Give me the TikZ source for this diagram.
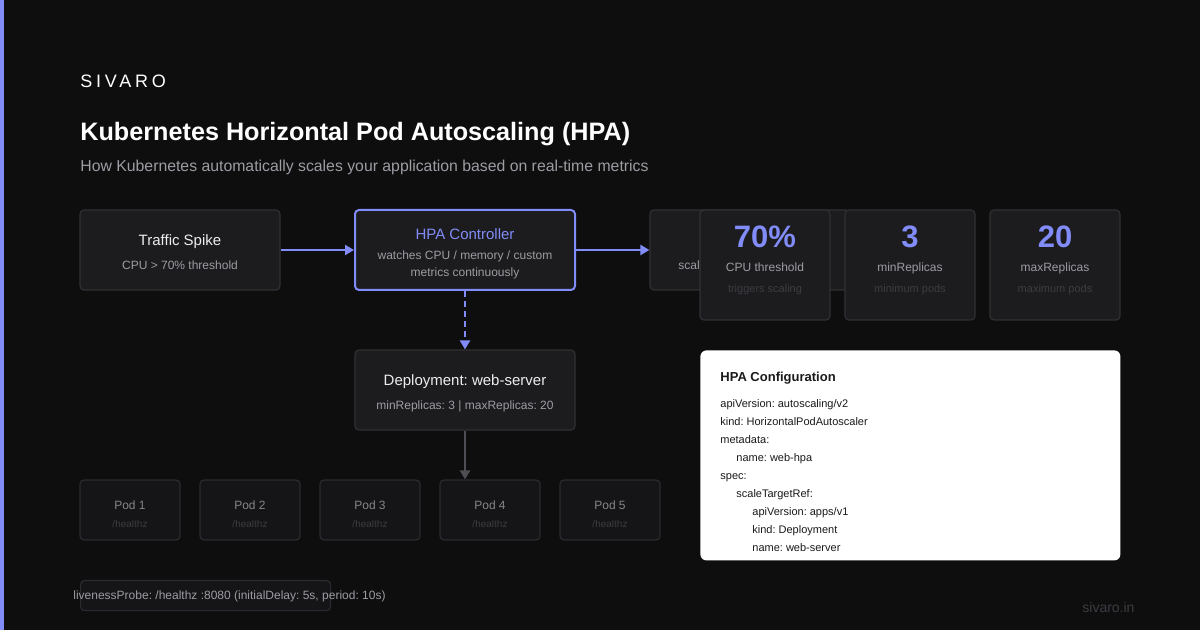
\documentclass[tikz,border=0pt]{standalone}
\usepackage{fontspec}
\setmainfont{Liberation Sans}
\newfontfamily\brandfont[LetterSpace=21]{Liberation Sans}
\usetikzlibrary{positioning,arrows.meta}
\frenchspacing

\definecolor{bg}{HTML}{0E0E0F}
\definecolor{accent}{HTML}{818CF8}
\definecolor{card}{HTML}{1C1C1F}
\definecolor{cardline}{HTML}{303034}
\definecolor{podfill}{HTML}{151517}
\definecolor{podline}{HTML}{2B2B2F}
\definecolor{txtmain}{HTML}{EDEDED}
\definecolor{txtsub}{HTML}{9C9CA3}
\definecolor{txtdim}{HTML}{3C3C42}
\definecolor{linkgray}{HTML}{4E4E54}
\definecolor{codeink}{HTML}{1A1A1A}

\newcommand{\fsz}[2]{\fontsize{#1}{#2}\selectfont}

\tikzset{
  box/.style={draw=cardline, fill=card, rounded corners=2pt, line width=0.6pt,
    minimum width=100pt, minimum height=40pt, inner sep=0pt},
  podbox/.style={draw=podline, fill=podfill, rounded corners=2pt, line width=0.6pt,
    minimum width=50pt, minimum height=30pt, inner sep=0pt},
  statbox/.style={box, minimum width=65pt, minimum height=55pt},
  txt/.style={inner sep=0pt, anchor=base},
  flow/.style={draw=accent, line width=1.2pt, -{Triangle[length=4.5pt, width=5pt]}},
}

\begin{document}
\begin{tikzpicture}[x=0.5pt, y=-0.5pt]
    % 背景
    \fill[bg] (0,0) rectangle (1200,630);
    \fill[accent] (0,0) rectangle (4,630);
    \useasboundingbox (0,0) rectangle (1200,630);

    % 标题
    \node[txt, anchor=base west, text=white] (brand) at (80,88) {\brandfont\fsz{9}{11}SIVARO};
    \node[txt, anchor=base west, text=white] (title) at (80,141) {\fsz{12.6}{15}\bfseries Kubernetes Horizontal Pod Autoscaling (HPA)};
    \node[txt, anchor=base west, text=txtsub] (subtitle) at (80,172) {\fsz{7.9}{9}How Kubernetes automatically scales your application based on real-time metrics};

    % 第一行
    \node[box] (spike) at (180,250) {};
    \node[txt, text=txtmain] (spikeT) at (180,246) {\fsz{7.5}{9}Traffic Spike};
    \node[txt, text=txtsub] (spikeS) at (180,270) {\fsz{6}{7}CPU > 70\% threshold};

    \node[box, draw=accent, line width=1pt, minimum width=110pt] (hpa) at (465,250) {};
    \node[txt, text=accent] (hpaT) at (465,240) {\fsz{7.5}{9}HPA Controller};
    \node[txt, text=txtsub] (hpaS1) at (465,260) {\fsz{6}{7}watches CPU / memory / custom};
    \node[txt, text=txtsub] (hpaS2) at (465,277) {\fsz{6}{7}metrics continuously};

    \node[box] (scale) at (750,250) {};
    \node[txt, anchor=base west, text=txtsub] (scaleS) at (678,270) {\fsz{6}{7}scales pods out};

    \draw[flow] (spike) -- (hpa);
    \draw[flow] (hpa) -- (scale);

    % 指标卡片
    \node[statbox] (cpu) at (765,265) {};
    \node[txt, text=accent] (cpuV) at (765,248) {\fsz{15.5}{17}\bfseries 70\%};
    \node[txt, text=txtsub] (cpuL) at (765,272) {\fsz{6}{7}CPU threshold};
    \node[txt, text=txtdim] (cpuS) at (765,293) {\fsz{5.5}{7}triggers scaling};

    \node[statbox] (minr) at (910,265) {};
    \node[txt, text=accent] (minrV) at (910,248) {\fsz{15.5}{17}\bfseries 3};
    \node[txt, text=txtsub] (minrL) at (910,272) {\fsz{6}{7}minReplicas};
    \node[txt, text=txtdim] (minrS) at (910,293) {\fsz{5.5}{7}minimum pods};

    \node[statbox] (maxr) at (1055,265) {};
    \node[txt, text=accent] (maxrV) at (1055,248) {\fsz{15.5}{17}\bfseries 20};
    \node[txt, text=txtsub] (maxrL) at (1055,272) {\fsz{6}{7}maxReplicas};
    \node[txt, text=txtdim] (maxrS) at (1055,293) {\fsz{5.5}{7}maximum pods};

    % Deployment
    \node[box, minimum width=110pt] (deploy) at (465,390) {};
    \node[txt, text=txtmain] (deployT) at (465,386) {\fsz{7.5}{9}Deployment: web-server};
    \node[txt, text=txtsub] (deployS) at (465,410) {\fsz{6}{7}minReplicas: 3 | maxReplicas: 20};
    \draw[flow, dash pattern=on 3pt off 2pt] (hpa) -- (deploy);

    % Pods
    \foreach \i/\x in {1/130, 2/250, 3/370, 4/490, 5/610} {
        \node[podbox] (pod\i) at (\x,510) {};
        \node[txt, text=txtsub!85!black] (pod\i T) at (\x,510) {\fsz{6}{7}Pod \i};
        \node[txt, text=txtdim] (pod\i S) at (\x,528) {\fsz{5}{6}/healthz};
    }
    \coordinate (podIn) at (deploy.south |- pod4.north);
    \draw[draw=linkgray, line width=1pt, -{Triangle[length=4.5pt, width=5pt]}] (deploy) -- (podIn);

    % 探针
    \node[podbox, minimum width=125pt, minimum height=15pt, anchor=north west] (probe) at (80,580) {};
    \node[txt, anchor=base west, text=txtsub] (probeT) at (73,600) {\fsz{6}{7}livenessProbe: /healthz :8080 (initialDelay: 5s, period: 10s)};

    % 配置
    \node[fill=white, rounded corners=3pt, minimum width=210pt, minimum height=105pt, anchor=north west, inner sep=0pt] (config) at (700,350) {};
    \node[txt, anchor=base west, text=codeink] (configT) at (720,382) {\fsz{6.5}{8}\bfseries HPA Configuration};
    \foreach \y/\ind/\line in {408/0/{apiVersion: autoscaling/v2}, 426/0/{kind: HorizontalPodAutoscaler},
        444/0/{metadata:}, 462/16/{name: web-hpa}, 480/0/{spec:}, 498/16/{scaleTargetRef:},
        516/32/{apiVersion: apps/v1}, 534/32/{kind: Deployment}, 552/32/{name: web-server}} {
        \node[txt, anchor=base west, text=codeink] at (720+\ind,\y) {\fsz{5.5}{7}\line};
    }

    % 页脚
    \node[txt, anchor=base west, text=txtdim] (site) at (1082,612) {\fsz{7}{8}sivaro.in};
\end{tikzpicture}
\end{document}
